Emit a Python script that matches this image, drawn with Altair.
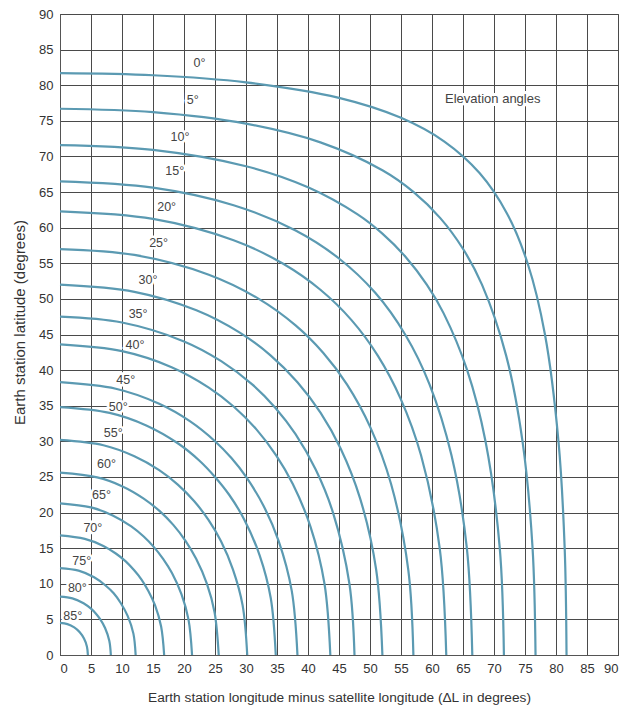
import altair as alt
import pandas as pd

# ---- data: elevation-angle contours ----
elevations = [0, 5, 10, 15, 20, 25, 30, 35, 40, 45, 50, 55, 60, 65, 70, 75, 80, 85]

lon_e0 = [0, 15, 30, 45, 55, 62, 67.67, 72.09, 75.42, 78.22, 80.40, 81.40, 81.7]
lat_e0 = [81.7, 81.40, 80.40, 78.22, 75.42, 72.09, 67.67, 62, 55, 45, 30, 15, 0]

lon_e5 = [0, 15, 30, 42, 52, 57, 61.34, 65.02, 68.06, 71.97, 74.60, 76.22, 76.7]
lat_e5 = [76.7, 76.22, 74.60, 71.97, 68.06, 65.02, 61.34, 57, 52, 42, 30, 15, 0]

lon_e10 = [0, 15, 30, 40, 48, 52, 55.82, 59.16, 61.86, 65.67, 68.63, 70.93, 71.6]
lat_e10 = [71.6, 70.93, 68.63, 65.67, 61.86, 59.16, 55.82, 52, 48, 40, 30, 15, 0]

lon_e15 = [0, 15, 28, 38, 45, 50.85, 55.67, 59.60, 63.15, 65.62, 66.5]
lat_e15 = [66.5, 65.62, 63.15, 59.60, 55.67, 50.85, 45, 38, 28, 15, 0]

lon_e20 = [0, 15, 28, 36, 42, 47.02, 51.28, 54.93, 58.24, 61.24, 62.3]
lat_e20 = [62.3, 61.24, 58.24, 54.93, 51.28, 47.02, 42, 36, 28, 15, 0]

lon_e25 = [0, 12, 24, 32, 38, 42.44, 46.28, 50.04, 53.40, 56.17, 57.0]
lat_e25 = [57.0, 56.17, 53.40, 50.04, 46.28, 42.44, 38, 32, 24, 12, 0]

lon_e30 = [0, 12, 22, 29, 34, 38.3, 42.04, 45.26, 48.40, 50.99, 52.0]
lat_e30 = [52.0, 50.99, 48.40, 45.26, 42.04, 38.3, 34, 29, 22, 12, 0]

lon_e35 = [0, 10, 20, 26, 31, 34.72, 37.99, 41.26, 44.03, 46.68, 47.5]
lat_e35 = [47.5, 46.68, 44.03, 41.26, 37.99, 34.72, 31, 26, 20, 10, 0]

lon_e40 = [0, 10, 18, 24, 28, 31.68, 34.89, 37.55, 40.41, 42.66, 43.6]
lat_e40 = [43.6, 42.66, 40.41, 37.55, 34.89, 31.68, 28, 24, 18, 10, 0]

lon_e45 = [0, 9, 16, 21, 25, 27.65, 30.02, 32.80, 35.27, 37.38, 38.3]
lat_e45 = [38.3, 37.38, 35.27, 32.80, 30.02, 27.65, 25, 21, 16, 9, 0]

lon_e50 = [0, 8, 14, 19, 22.5, 25, 27.28, 29.73, 32.2, 33.99, 34.8]
lat_e50 = [34.8, 33.99, 32.2, 29.73, 27.28, 25, 22.5, 19, 14, 8, 0]

lon_e55 = [0, 7, 12, 16, 19, 21.62, 23.92, 25.95, 27.9, 29.45, 30.2]
lat_e55 = [30.2, 29.45, 27.9, 25.95, 23.92, 21.62, 19, 16, 12, 7, 0]

lon_e60 = [0, 6, 10, 13.5, 16, 18.27, 20.27, 21.96, 23.70, 24.93, 25.6]
lat_e60 = [25.6, 24.93, 23.70, 21.96, 20.27, 18.27, 16, 13.5, 10, 6, 0]

lon_e65 = [0, 5, 8.5, 11.5, 13.5, 15.15, 16.63, 18.06, 19.6, 20.72, 21.3]
lat_e65 = [21.3, 20.72, 19.6, 18.06, 16.63, 15.15, 13.5, 11.5, 8.5, 5, 0]

lon_e70 = [0, 4, 7, 9, 10.6, 11.93, 13.15, 14.25, 15.32, 16.31, 16.8]
lat_e70 = [16.8, 16.31, 15.32, 14.25, 13.15, 11.93, 10.6, 9, 7, 4, 0]

lon_e75 = [0, 3, 5.5, 7.3, 8.66, 9.79, 10.91, 11.84, 12.2]
lat_e75 = [12.2, 11.84, 10.91, 9.79, 8.66, 7.3, 5.5, 3, 0]

lon_e80 = [0, 2, 3.8, 5, 5.80, 6.50, 7.27, 7.95, 8.2]
lat_e80 = [8.2, 7.95, 7.27, 6.50, 5.80, 5, 3.8, 2, 0]

lon_e85 = [0, 1.2, 2.3, 3.19, 3.87, 4.34, 4.5]
lat_e85 = [4.5, 4.34, 3.87, 3.19, 2.3, 1.2, 0]

# contour labels
label_text = ["0°", "5°", "10°", "15°", "20°", "25°", "30°", "35°", "40°",
              "45°", "50°", "55°", "60°", "65°", "70°", "75°", "80°", "85°"]
label_x = [22.5, 21.4, 19.35, 18.5, 17.2, 15.9, 14.2, 12.6, 12.1,
           10.6, 9.4, 8.6, 7.5, 6.7, 5.3, 3.5, 2.8, 2.05]
label_y = [83.1, 77.9, 72.7, 67.9, 62.9, 57.8, 52.65, 47.9, 43.5,
           38.6, 34.8, 31.1, 26.8, 22.4, 17.9, 13.2, 9.4, 5.5]

note_text = ["Elevation angles"]
note_x = [69.8]
note_y = [78.0]

axis_ticks = list(range(0, 91, 5))

# ---- build tables ----
curve_lists = [
    (lon_e0, lat_e0), (lon_e5, lat_e5), (lon_e10, lat_e10), (lon_e15, lat_e15),
    (lon_e20, lat_e20), (lon_e25, lat_e25), (lon_e30, lat_e30), (lon_e35, lat_e35),
    (lon_e40, lat_e40), (lon_e45, lat_e45), (lon_e50, lat_e50), (lon_e55, lat_e55),
    (lon_e60, lat_e60), (lon_e65, lat_e65), (lon_e70, lat_e70), (lon_e75, lat_e75),
    (lon_e80, lat_e80), (lon_e85, lat_e85),
]
rows = []
for e, (xs, ys) in zip(elevations, curve_lists):
    for i, (xv, yv) in enumerate(zip(xs, ys)):
        rows.append({"elev": e, "idx": i, "x": xv, "y": yv})
curves_df = pd.DataFrame(rows)

curve_labels_df = pd.DataFrame({"t": label_text, "x": label_x, "y": label_y})
note_df = pd.DataFrame({"t": note_text, "x": note_x, "y": note_y})

FONT = "Liberation Sans"
xscale = alt.Scale(domain=[0, 90], nice=False, zero=False)
yscale = alt.Scale(domain=[0, 90], nice=False, zero=False)

common_axis = dict(values=axis_ticks, grid=True, ticks=False,
                   labelFontSize=13, labelColor="#333", labelFont=FONT,
                   titleFont=FONT, titleFontWeight="normal",
                   titleColor="#333", domainColor="#555",
                   gridColor="#4a4a4a", gridOpacity=1, gridWidth=1)
x_axis = alt.Axis(labelPadding=7, titleFontSize=13.7,
                  titleX=279, titleY=42, titleAlign="center", titleBaseline="middle",
                  title="Earth station longitude minus satellite longitude (ΔL in degrees)",
                  **common_axis)
y_axis = alt.Axis(labelPadding=7, titleFontSize=15,
                  titleX=-41, titleY=308, titleAngle=270,
                  titleAlign="center", titleBaseline="middle",
                  title="Earth station latitude (degrees)", **common_axis)

X = alt.X("x:Q", scale=xscale, axis=x_axis)
Y = alt.Y("y:Q", scale=yscale, axis=y_axis)

lines = alt.Chart(curves_df).mark_line(
    color="#5b9ab2", strokeWidth=2.2, interpolate="catmull-rom"
).encode(x=X, y=Y, detail="elev:N", order="idx:Q")

halo = alt.Chart(curve_labels_df).mark_text(
    font=FONT, fontSize=12.5, align="center", baseline="middle",
    color="white", stroke="white", strokeWidth=5
).encode(x=X, y=Y, text="t:N")

text = alt.Chart(curve_labels_df).mark_text(
    font=FONT, fontSize=12.5, align="center", baseline="middle", color="#444"
).encode(x=X, y=Y, text="t:N")

note_halo = alt.Chart(note_df).mark_text(
    font=FONT, fontSize=13, align="center", baseline="middle",
    color="white", stroke="white", strokeWidth=6
).encode(x=X, y=Y, text="t:N")

note = alt.Chart(note_df).mark_text(
    font=FONT, fontSize=13, align="center", baseline="middle", color="#444"
).encode(x=X, y=Y, text="t:N")

chart = alt.layer(halo, note_halo, lines, text, note).properties(
    width=558, height=641,
    autosize=alt.AutoSizeParams(type="none"),
    padding={"left": 52, "top": 6, "right": 5, "bottom": 50},
).configure_view(stroke="#555", strokeWidth=1)

chart.save("out.html", embed_options={"renderer": "svg", "actions": False})
